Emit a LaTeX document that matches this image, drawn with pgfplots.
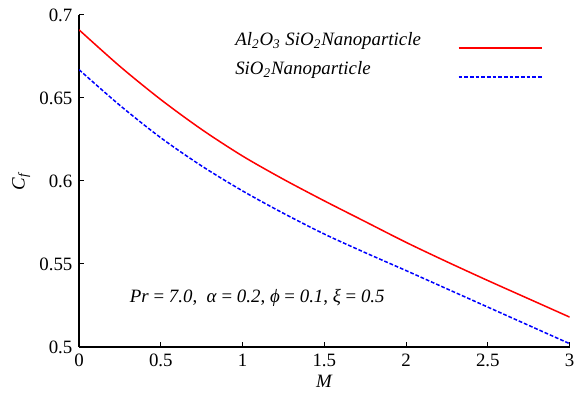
\documentclass[border=0pt]{standalone}
\usepackage{fontspec}
\setmainfont{Liberation Serif}
\usepackage{pgfplots}
\pgfplotsset{compat=1.18}

\begin{document}
\begin{tikzpicture}
\begin{axis}[
  at={(0,0)}, anchor=south west,
  scale only axis,
  width=260pt, height=176pt,
  xmin=0, xmax=3, ymin=0.5, ymax=0.7,
  axis lines*=left,
  xtick={0,0.5,...,3},
  ytick={0.5,0.55,0.6,0.65,0.7},
  yticklabels={0.5,0.55,0.6,0.65,0.7},
  xticklabels={0,0.5,1,1.5,2,2.5,3},
  tick align=inside,
  major tick length=2.5pt,
  tick style={black, line width=0.5pt},
  axis line style={black, line width=0.6pt},
  /pgf/number format/assume math mode=true,
  xlabel={\textit{M}},
  ylabel={\textit{C}\textsubscript{\textit{f}}},
  xlabel style={yshift=2pt},
  ylabel style={yshift=-2pt},
  legend plot pos=right,
  legend cell align=left,
  legend style={draw=none, fill=none, at={(rel axis cs:0.31,0.96)}, anchor=north west,
    row sep=3pt, inner sep=0pt},
]
\addplot[red, line width=0.8pt, smooth,
  legend image code/.code={\draw[red, line width=0.8pt] (0pt,-4pt) -- (44pt,-4pt);}] coordinates {
  (0,0.691) (0.25,0.669) (0.5,0.649) (0.75,0.631) (1,0.615) (1.25,0.601)
  (1.5,0.588) (1.75,0.5755) (2,0.563) (2.25,0.5513) (2.5,0.540) (2.75,0.529) (3,0.518)
};
\addlegendentry{\makebox[116pt][l]{\textit{Al\textsubscript{2}O\textsubscript{3} SiO\textsubscript{2}Nanoparticle}}}
\addplot[blue, line width=0.8pt, smooth, dash pattern=on 2pt off 1pt,
  legend image code/.code={\draw[blue, line width=0.8pt, dash pattern=on 2pt off 1pt] (0pt,-4pt) -- (44pt,-4pt);}] coordinates {
  (0,0.667) (0.25,0.6455) (0.5,0.626) (0.75,0.609) (1,0.594) (1.25,0.5805)
  (1.5,0.568) (1.75,0.5568) (2,0.546) (2.25,0.535) (2.5,0.524) (2.75,0.513) (3,0.502)
};
\addlegendentry{\makebox[116pt][l]{\textit{SiO\textsubscript{2}Nanoparticle}}}
\node at (axis cs:1.09,0.5295) {\textit{Pr} = \textit{7.0},\ \ \textit{α} = \textit{0.2}, \textit{ϕ} = \textit{0.1}, \textit{ξ} = \textit{0.5}};
\end{axis}
\path (-41.9pt,-29.7pt) rectangle (267.1pt,183.9pt);
\end{tikzpicture}
\end{document}
